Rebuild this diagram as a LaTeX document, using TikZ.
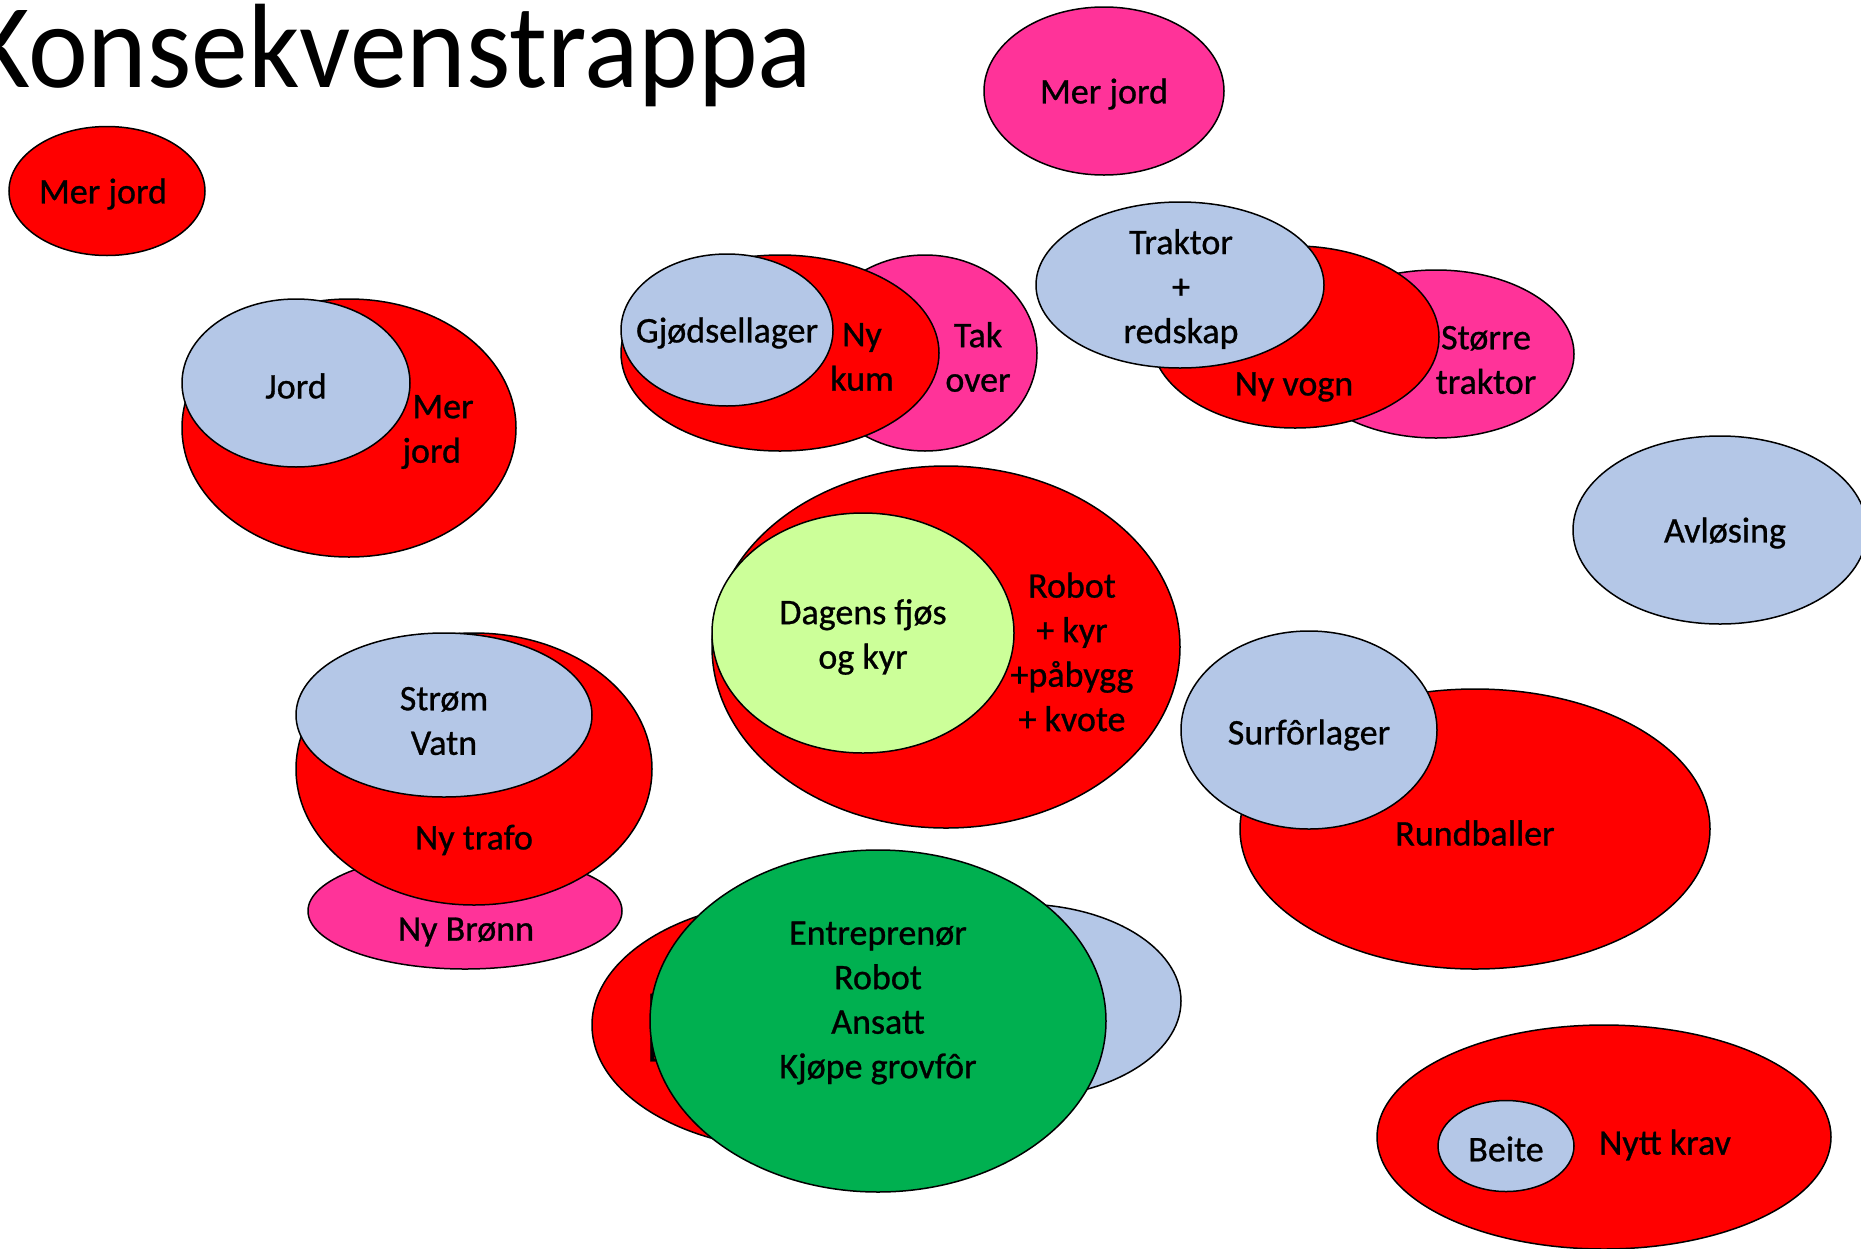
\documentclass[tikz,border=0pt]{standalone}
\usepackage{fontspec}
\setmainfont{Carlito}
\newfontfamily\lblfont[FakeBold=0.8]{Carlito}
\usetikzlibrary{shapes.geometric}
\definecolor{cred}{HTML}{FF0000}
\definecolor{cpink}{HTML}{FF3399}
\definecolor{cblue}{HTML}{B4C7E7}
\definecolor{clgreen}{HTML}{CCFF99}
\definecolor{cgreen}{HTML}{00B050}
\tikzset{
  ell/.style={ellipse, draw=black, line width=1.5pt, inner sep=0pt},
  redell/.style={ell, fill=cred},
  pinkell/.style={ell, fill=cpink},
  blueell/.style={ell, fill=cblue},
  lgell/.style={ell, fill=clgreen},
  gell/.style={ell, fill=cgreen},
  lbl/.style={inner sep=0pt, align=center, font=\lblfont\fontsize{36}{44.5}\selectfont, text=black},
}
\newcommand{\ellnode}[6]{\node[#1, minimum width=#4pt, minimum height=#5pt] (#6) at (#2,#3) {};}
\begin{document}
\begin{tikzpicture}[x=1pt,y=-1pt]
\useasboundingbox (0,0) rectangle (1861,1248);
\clip (0,0) rectangle (1861,1248);
\fill[white] (0,0) rectangle (1861,1248);

% title
\node[anchor=base west, inner sep=0pt, font=\fontsize{120}{120}\selectfont] (title) at (-29,87) {\scalebox{0.945}[1]{Konsekvenstrappa}};

% 1 Mer jord red
\ellnode{redell}{107}{191}{196}{129}{e1}
\node[lbl] (t1) at (103,194) {Mer jord};

% 2 Mer jord pink
\ellnode{pinkell}{1104}{91}{240}{168}{e2}
\node[lbl] (t2) at (1104,94) {Mer jord};

% 3 Jord
\ellnode{redell}{349}{428}{334}{258}{e3r}
\ellnode{blueell}{296}{383}{228}{168}{e3b}
\node[lbl] (t3b) at (296,386) {Jord};
\node[lbl, align=left] (t3r) at (438,432) {\hspace*{10pt}Mer\\jord};

% 4 Gjodsellager
\ellnode{pinkell}{925}{353}{224}{196}{e4p}
\ellnode{redell}{780}{353}{318}{196}{e4r}
\ellnode{blueell}{727}{330}{212}{152}{e4b}
\node[lbl] (t4b) at (727,333) {Gjødsellager};
\node[lbl] (t4r) at (862,357) {Ny\\kum};
\node[lbl] (t4p) at (978,357) {Tak\\over};

% 5 Traktor
\ellnode{pinkell}{1436}{354}{276}{168}{e5p}
\ellnode{redell}{1295}{337}{288}{182}{e5r}
\ellnode{blueell}{1180}{285}{288}{166}{e5b}
\node[lbl] (t5b) at (1181,289) {Traktor\\+\\redskap};
\node[lbl] (t5r) at (1294,387) {Ny vogn};
\node[lbl] (t5p) at (1486,360) {Større\\traktor};

% 6 Avlosing
\ellnode{blueell}{1720}{530}{294}{188}{e6}
\node[lbl] (t6) at (1725,533) {Avløsing};

% 7 Dagens
\ellnode{redell}{946}{647}{468}{362}{e7r}
\ellnode{lgell}{863}{633}{302}{240}{e7g}
\node[lbl] (t7g) at (863,637) {Dagens fjøs\\og kyr};
\node[lbl] (t7r) at (1072,652) {Robot\\+ kyr\\+påbygg\\+ kvote};

% 8 Strom
\ellnode{pinkell}{465}{911}{314}{116}{e8p}
\ellnode{redell}{474}{769}{356}{272}{e8r}
\ellnode{blueell}{444}{715}{296}{164}{e8b}
\node[lbl] (t8b) at (444,721) {Strøm\\Vatn};
\node[lbl] (t8r) at (474,840) {Ny trafo};
\node[lbl] (t8p) at (466,932) {Ny Brønn};

% 9 Entreprenor
\ellnode{redell}{800}{1025}{416}{250}{e9r}
\node[lbl, anchor=north west, align=left] (t9r) at (648,992) {Leie\\Leie};
\ellnode{blueell}{1020}{1001}{322}{194}{e9b}
\ellnode{gell}{878}{1021}{456}{342}{e9g}
\node[lbl] (t9g) at (878,1003) {Entreprenør\\Robot\\Ansatt\\Kjøpe grovfôr};

% 10 Surforlager
\ellnode{redell}{1475}{829}{470}{280}{e10r}
\ellnode{blueell}{1309}{730}{256}{198}{e10b}
\node[lbl] (t10b) at (1309,735) {Surfôrlager};
\node[lbl] (t10r) at (1475,833) {Rundballer};

% 11 Nytt krav
\ellnode{redell}{1604}{1137}{454}{224}{e11r}
\ellnode{blueell}{1506}{1146}{136}{91}{e11b}
\node[lbl] (t11b) at (1506,1149) {Beite};
\node[lbl] (t11r) at (1665,1145) {Nytt krav};
\end{tikzpicture}
\end{document}
